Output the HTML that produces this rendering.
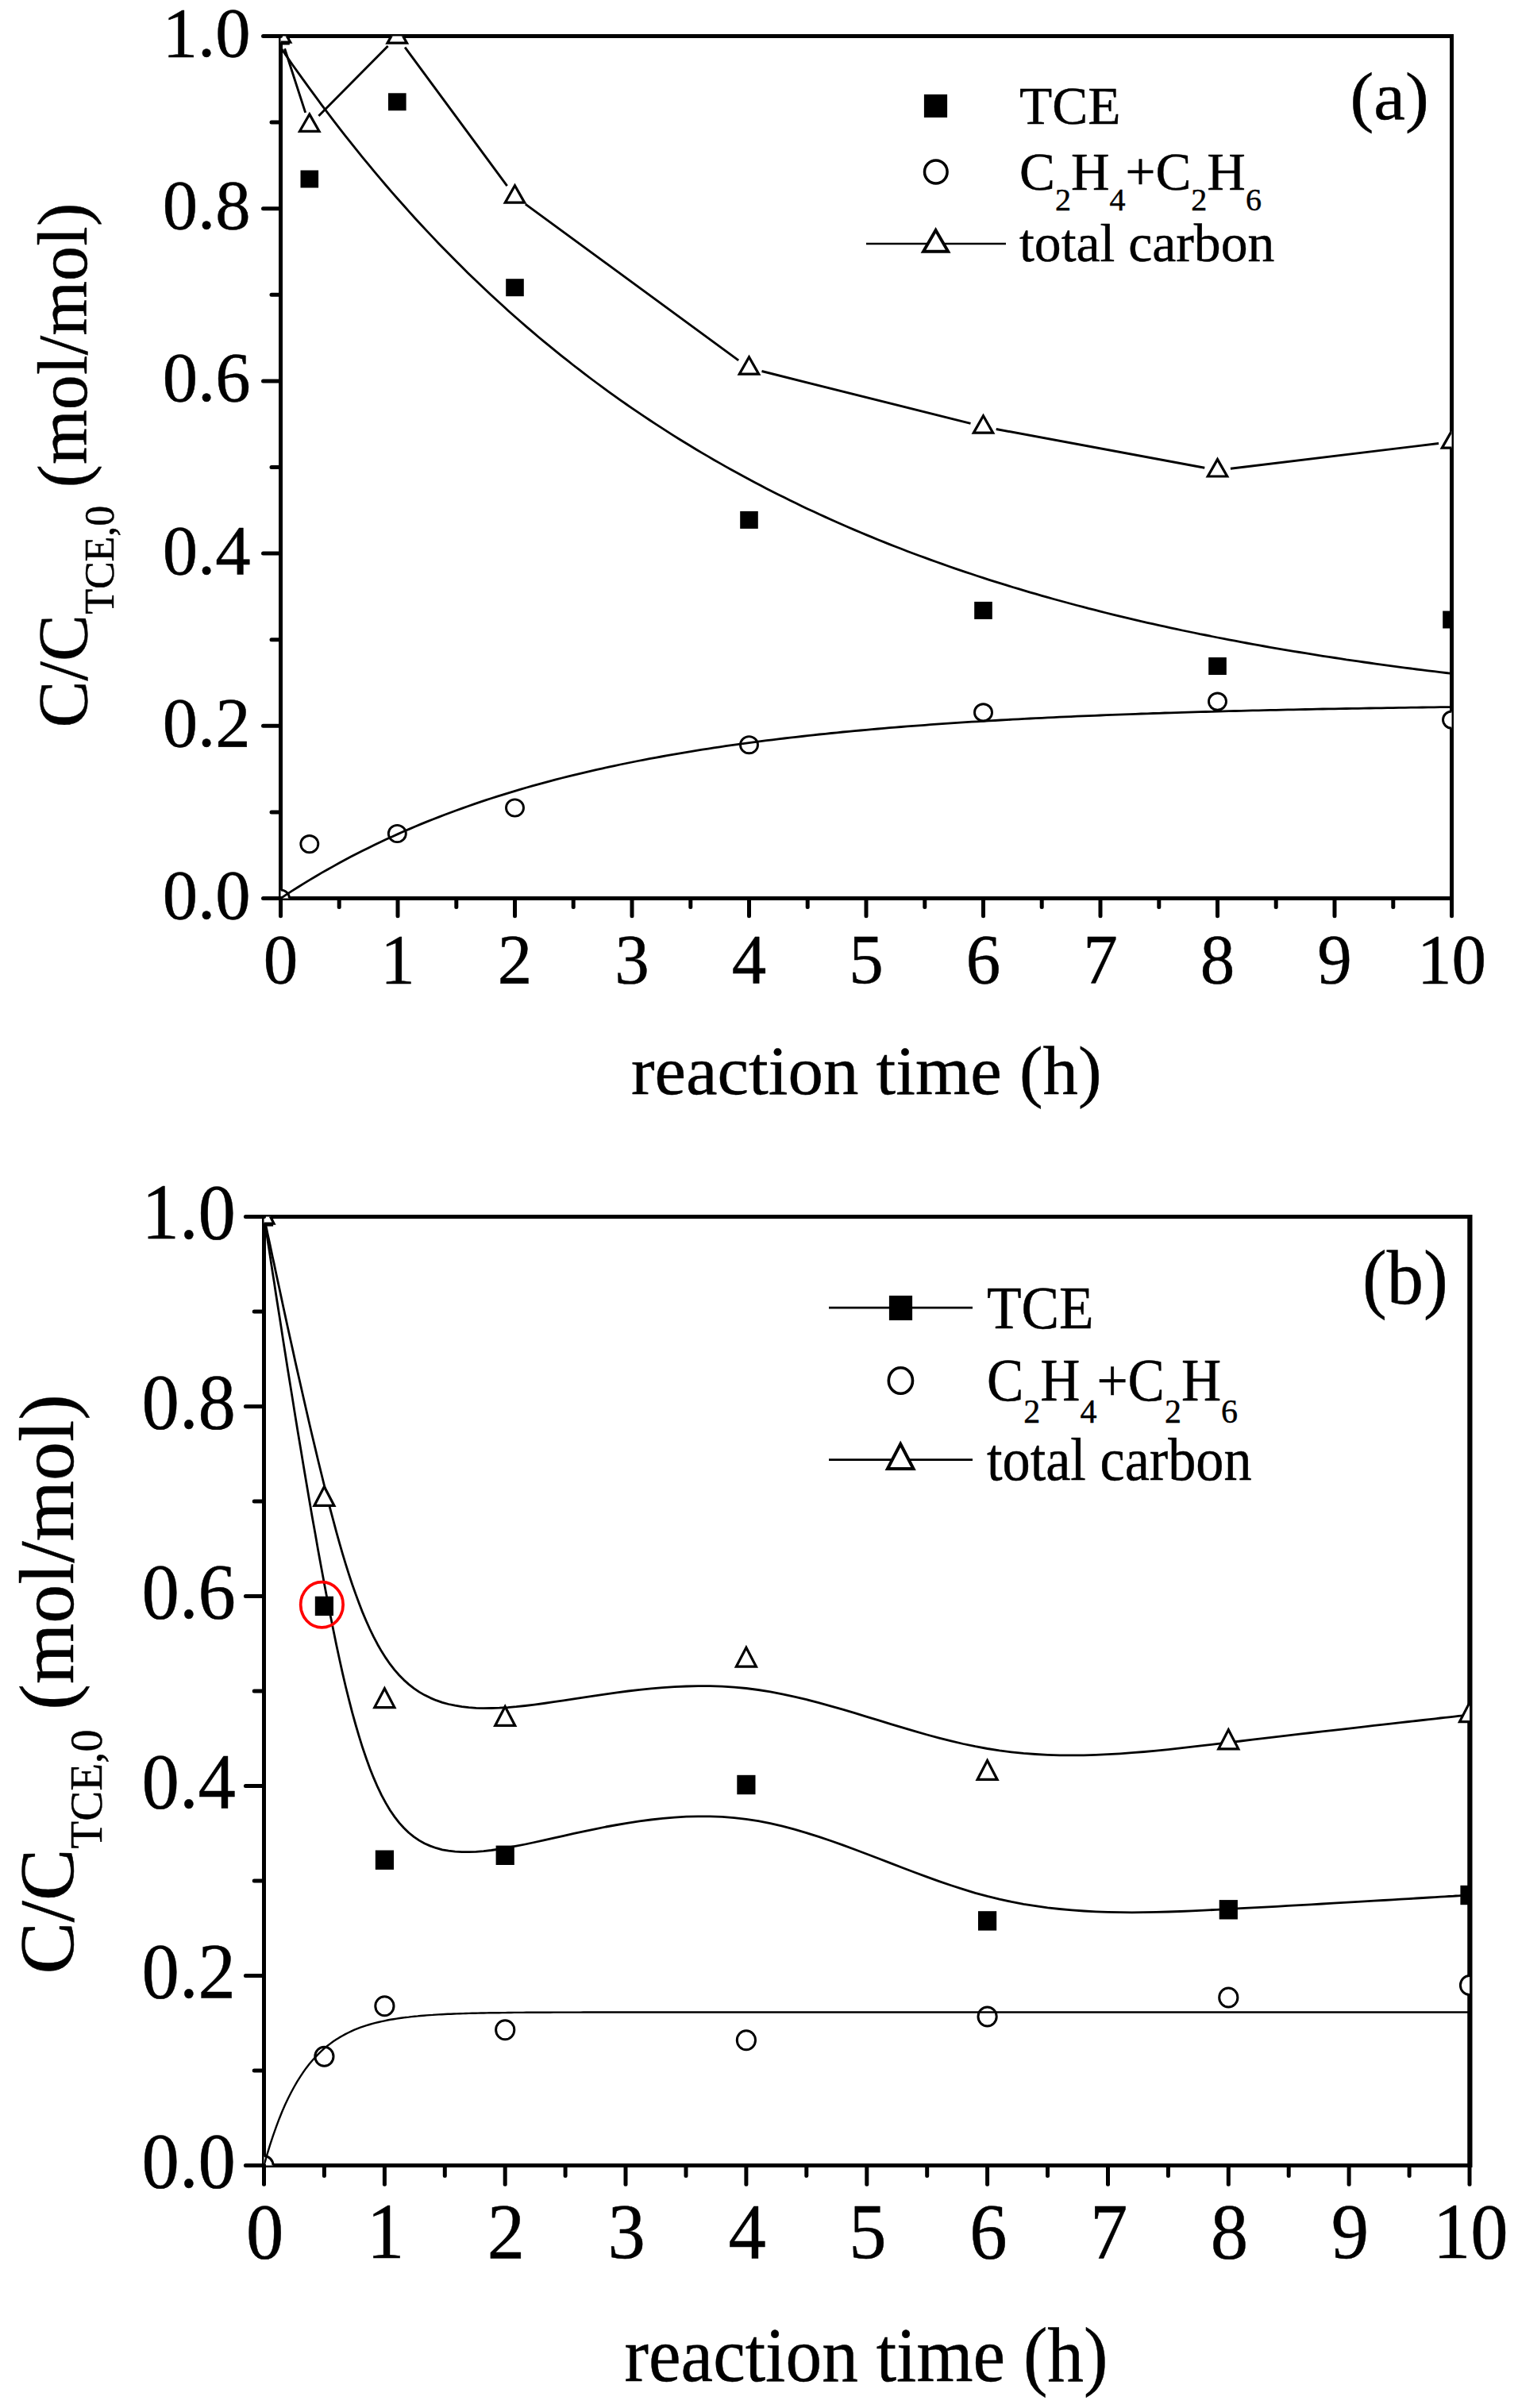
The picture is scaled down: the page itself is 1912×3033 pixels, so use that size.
<!DOCTYPE html>
<html><head><meta charset="utf-8"><title>figure</title>
<style>html,body{margin:0;padding:0;background:#fff}svg{display:block}</style></head>
<body>
<svg width="1912" height="3033" viewBox="0 0 1912 3033">
<rect width="1912" height="3033" fill="#fff"/>
<defs>
<clipPath id="clipa"><rect x="353.5" y="45.5" width="1475.0" height="1086.0"/></clipPath>
<clipPath id="clipb"><rect x="332.5" y="1532.4" width="1518.5" height="1195.2"/></clipPath>
</defs>
<path d="M353.5,45.5H1828.5V1131.5H353.5Z" stroke="#000" stroke-width="5.0" fill="none" stroke-linejoin="miter"/>
<g clip-path="url(#clipa)">
<path d="M358.6,61.2L384.7,141.9M401.4,145.9L488.6,58.1M510.1,59.6L638.7,234.1M661.8,257.1L930.2,453.8M959.5,467.5L1222.5,533.4M1254.7,540.5L1517.3,589.3M1549.9,590.3L1812.1,558.5" fill="none" stroke="#000" stroke-width="2.9"/>
<rect x="342.2" y="34.5" width="22.6" height="22" fill="#000"/>
<rect x="378.5" y="214.5" width="22.6" height="22" fill="#000"/>
<rect x="489.0" y="117.3" width="22.6" height="22" fill="#000"/>
<rect x="637.2" y="351.2" width="22.6" height="22" fill="#000"/>
<rect x="932.2" y="643.9" width="22.6" height="22" fill="#000"/>
<rect x="1227.2" y="757.9" width="22.6" height="22" fill="#000"/>
<rect x="1522.2" y="828.0" width="22.6" height="22" fill="#000"/>
<rect x="1817.2" y="769.5" width="22.6" height="22" fill="#000"/>
<ellipse cx="353.5" cy="1131.5" rx="11.0" ry="10.6" fill="#fff" stroke="#000" stroke-width="2.9"/>
<ellipse cx="389.8" cy="1063.1" rx="11.0" ry="10.6" fill="#fff" stroke="#000" stroke-width="2.9"/>
<ellipse cx="500.3" cy="1050.0" rx="11.0" ry="10.6" fill="#fff" stroke="#000" stroke-width="2.9"/>
<ellipse cx="648.5" cy="1017.5" rx="11.0" ry="10.6" fill="#fff" stroke="#000" stroke-width="2.9"/>
<ellipse cx="943.5" cy="938.2" rx="11.0" ry="10.6" fill="#fff" stroke="#000" stroke-width="2.9"/>
<ellipse cx="1238.5" cy="897.4" rx="11.0" ry="10.6" fill="#fff" stroke="#000" stroke-width="2.9"/>
<ellipse cx="1533.5" cy="883.6" rx="11.0" ry="10.6" fill="#fff" stroke="#000" stroke-width="2.9"/>
<ellipse cx="1828.5" cy="906.6" rx="11.0" ry="10.6" fill="#fff" stroke="#000" stroke-width="2.9"/>
<polygon points="353.5,31.8 365.7,53.2 341.3,53.2" fill="#fff" stroke="#000" stroke-width="3.2" stroke-linejoin="miter" stroke-miterlimit="10"/>
<polygon points="389.8,143.9 402.0,165.3 377.5,165.3" fill="#fff" stroke="#000" stroke-width="3.2" stroke-linejoin="miter" stroke-miterlimit="10"/>
<polygon points="500.3,32.7 512.5,54.1 488.0,54.1" fill="#fff" stroke="#000" stroke-width="3.2" stroke-linejoin="miter" stroke-miterlimit="10"/>
<polygon points="648.5,233.7 660.7,255.1 636.3,255.1" fill="#fff" stroke="#000" stroke-width="3.2" stroke-linejoin="miter" stroke-miterlimit="10"/>
<polygon points="943.5,449.8 955.7,471.2 931.3,471.2" fill="#fff" stroke="#000" stroke-width="3.2" stroke-linejoin="miter" stroke-miterlimit="10"/>
<polygon points="1238.5,523.8 1250.7,545.2 1226.3,545.2" fill="#fff" stroke="#000" stroke-width="3.2" stroke-linejoin="miter" stroke-miterlimit="10"/>
<polygon points="1533.5,578.6 1545.7,600.0 1521.3,600.0" fill="#fff" stroke="#000" stroke-width="3.2" stroke-linejoin="miter" stroke-miterlimit="10"/>
<polygon points="1828.5,542.8 1840.7,564.2 1816.3,564.2" fill="#fff" stroke="#000" stroke-width="3.2" stroke-linejoin="miter" stroke-miterlimit="10"/>
<path d="M353.5,59.9L360.9,70.6L368.2,81.2L375.6,91.6L383.0,101.9L390.4,112.1L397.8,122.2L405.1,132.1L412.5,141.9L419.9,151.6L427.2,161.2L434.6,170.6L442.0,179.9L449.4,189.2L456.8,198.3L464.1,207.2L471.5,216.1L478.9,224.9L486.2,233.5L493.6,242.1L501.0,250.5L508.4,258.8L515.8,267.1L523.1,275.2L530.5,283.2L537.9,291.1L545.2,298.9L552.6,306.7L560.0,314.3L567.4,321.8L574.8,329.3L582.1,336.6L589.5,343.9L596.9,351.0L604.2,358.1L611.6,365.1L619.0,372.0L626.4,378.8L633.8,385.5L641.1,392.2L648.5,398.8L655.9,405.2L663.2,411.6L670.6,417.9L678.0,424.2L685.4,430.4L692.8,436.4L700.1,442.4L707.5,448.4L714.9,454.2L722.2,460.0L729.6,465.7L737.0,471.4L744.4,477.0L751.8,482.5L759.1,487.9L766.5,493.3L773.9,498.6L781.2,503.8L788.6,509.0L796.0,514.1L803.4,519.1L810.8,524.1L818.1,529.0L825.5,533.9L832.9,538.7L840.2,543.4L847.6,548.1L855.0,552.7L862.4,557.3L869.8,561.8L877.1,566.2L884.5,570.6L891.9,574.9L899.2,579.2L906.6,583.4L914.0,587.6L921.4,591.7L928.8,595.8L936.1,599.8L943.5,603.8L950.9,607.7L958.2,611.6L965.6,615.4L973.0,619.2L980.4,622.9L987.8,626.6L995.1,630.2L1002.5,633.8L1009.9,637.4L1017.2,640.9L1024.6,644.3L1032.0,647.8L1039.4,651.1L1046.8,654.5L1054.1,657.8L1061.5,661.0L1068.9,664.2L1076.2,667.4L1083.6,670.5L1091.0,673.6L1098.4,676.6L1105.8,679.7L1113.1,682.6L1120.5,685.6L1127.9,688.5L1135.2,691.3L1142.6,694.2L1150.0,697.0L1157.4,699.7L1164.8,702.4L1172.1,705.1L1179.5,707.8L1186.9,710.4L1194.2,713.0L1201.6,715.6L1209.0,718.1L1216.4,720.6L1223.8,723.0L1231.1,725.5L1238.5,727.9L1245.9,730.3L1253.2,732.6L1260.6,734.9L1268.0,737.2L1275.4,739.5L1282.8,741.7L1290.1,743.9L1297.5,746.1L1304.9,748.2L1312.2,750.3L1319.6,752.4L1327.0,754.5L1334.4,756.5L1341.8,758.5L1349.1,760.5L1356.5,762.5L1363.9,764.4L1371.2,766.4L1378.6,768.2L1386.0,770.1L1393.4,772.0L1400.8,773.8L1408.1,775.6L1415.5,777.4L1422.9,779.1L1430.2,780.9L1437.6,782.6L1445.0,784.3L1452.4,785.9L1459.8,787.6L1467.1,789.2L1474.5,790.8L1481.9,792.4L1489.2,794.0L1496.6,795.5L1504.0,797.0L1511.4,798.6L1518.8,800.0L1526.1,801.5L1533.5,803.0L1540.9,804.4L1548.2,805.8L1555.6,807.2L1563.0,808.6L1570.4,810.0L1577.8,811.3L1585.1,812.7L1592.5,814.0L1599.9,815.3L1607.2,816.6L1614.6,817.8L1622.0,819.1L1629.4,820.3L1636.8,821.5L1644.1,822.7L1651.5,823.9L1658.9,825.1L1666.2,826.3L1673.6,827.4L1681.0,828.5L1688.4,829.6L1695.8,830.8L1703.1,831.8L1710.5,832.9L1717.9,834.0L1725.2,835.0L1732.6,836.1L1740.0,837.1L1747.4,838.1L1754.8,839.1L1762.1,840.1L1769.5,841.1L1776.9,842.0L1784.2,843.0L1791.6,843.9L1799.0,844.8L1806.4,845.7L1813.8,846.6L1821.1,847.5L1828.5,848.4" fill="none" stroke="#000" stroke-width="2.8" stroke-linejoin="round"/>
<path d="M353.5,1131.5L360.9,1126.6L368.2,1121.9L375.6,1117.2L383.0,1112.6L390.4,1108.1L397.8,1103.7L405.1,1099.4L412.5,1095.2L419.9,1091.1L427.2,1087.0L434.6,1083.0L442.0,1079.1L449.4,1075.3L456.8,1071.6L464.1,1067.9L471.5,1064.3L478.9,1060.8L486.2,1057.3L493.6,1053.9L501.0,1050.6L508.4,1047.3L515.8,1044.1L523.1,1041.0L530.5,1037.9L537.9,1034.9L545.2,1032.0L552.6,1029.1L560.0,1026.3L567.4,1023.5L574.8,1020.8L582.1,1018.1L589.5,1015.5L596.9,1012.9L604.2,1010.4L611.6,1007.9L619.0,1005.5L626.4,1003.2L633.8,1000.8L641.1,998.6L648.5,996.3L655.9,994.2L663.2,992.0L670.6,989.9L678.0,987.9L685.4,985.9L692.8,983.9L700.1,981.9L707.5,980.0L714.9,978.2L722.2,976.4L729.6,974.6L737.0,972.8L744.4,971.1L751.8,969.4L759.1,967.8L766.5,966.1L773.9,964.6L781.2,963.0L788.6,961.5L796.0,960.0L803.4,958.5L810.8,957.1L818.1,955.7L825.5,954.3L832.9,953.0L840.2,951.6L847.6,950.3L855.0,949.1L862.4,947.8L869.8,946.6L877.1,945.4L884.5,944.2L891.9,943.1L899.2,941.9L906.6,940.8L914.0,939.7L921.4,938.7L928.8,937.6L936.1,936.6L943.5,935.6L950.9,934.6L958.2,933.7L965.6,932.7L973.0,931.8L980.4,930.9L987.8,930.0L995.1,929.1L1002.5,928.3L1009.9,927.5L1017.2,926.6L1024.6,925.8L1032.0,925.0L1039.4,924.3L1046.8,923.5L1054.1,922.8L1061.5,922.0L1068.9,921.3L1076.2,920.6L1083.6,920.0L1091.0,919.3L1098.4,918.6L1105.8,918.0L1113.1,917.3L1120.5,916.7L1127.9,916.1L1135.2,915.5L1142.6,914.9L1150.0,914.4L1157.4,913.8L1164.8,913.3L1172.1,912.7L1179.5,912.2L1186.9,911.7L1194.2,911.2L1201.6,910.7L1209.0,910.2L1216.4,909.7L1223.8,909.2L1231.1,908.8L1238.5,908.3L1245.9,907.9L1253.2,907.5L1260.6,907.0L1268.0,906.6L1275.4,906.2L1282.8,905.8L1290.1,905.4L1297.5,905.0L1304.9,904.7L1312.2,904.3L1319.6,903.9L1327.0,903.6L1334.4,903.2L1341.8,902.9L1349.1,902.6L1356.5,902.2L1363.9,901.9L1371.2,901.6L1378.6,901.3L1386.0,901.0L1393.4,900.7L1400.8,900.4L1408.1,900.1L1415.5,899.8L1422.9,899.6L1430.2,899.3L1437.6,899.0L1445.0,898.8L1452.4,898.5L1459.8,898.3L1467.1,898.0L1474.5,897.8L1481.9,897.6L1489.2,897.3L1496.6,897.1L1504.0,896.9L1511.4,896.7L1518.8,896.5L1526.1,896.3L1533.5,896.1L1540.9,895.9L1548.2,895.7L1555.6,895.5L1563.0,895.3L1570.4,895.1L1577.8,894.9L1585.1,894.8L1592.5,894.6L1599.9,894.4L1607.2,894.3L1614.6,894.1L1622.0,893.9L1629.4,893.8L1636.8,893.6L1644.1,893.5L1651.5,893.3L1658.9,893.2L1666.2,893.0L1673.6,892.9L1681.0,892.8L1688.4,892.6L1695.8,892.5L1703.1,892.4L1710.5,892.3L1717.9,892.1L1725.2,892.0L1732.6,891.9L1740.0,891.8L1747.4,891.7L1754.8,891.6L1762.1,891.4L1769.5,891.3L1776.9,891.2L1784.2,891.1L1791.6,891.0L1799.0,890.9L1806.4,890.8L1813.8,890.7L1821.1,890.7L1828.5,890.6" fill="none" stroke="#000" stroke-width="2.8" stroke-linejoin="round"/>
</g>
<g stroke="#000" stroke-width="5.0" stroke-linecap="round" fill="none">
<path d="M353.5,1131.5v22.2"/>
<path d="M427.2,1131.5v11.0"/>
<path d="M501.0,1131.5v22.2"/>
<path d="M574.8,1131.5v11.0"/>
<path d="M648.5,1131.5v22.2"/>
<path d="M722.2,1131.5v11.0"/>
<path d="M796.0,1131.5v22.2"/>
<path d="M869.8,1131.5v11.0"/>
<path d="M943.5,1131.5v22.2"/>
<path d="M1017.2,1131.5v11.0"/>
<path d="M1091.0,1131.5v22.2"/>
<path d="M1164.8,1131.5v11.0"/>
<path d="M1238.5,1131.5v22.2"/>
<path d="M1312.2,1131.5v11.0"/>
<path d="M1386.0,1131.5v22.2"/>
<path d="M1459.8,1131.5v11.0"/>
<path d="M1533.5,1131.5v22.2"/>
<path d="M1607.2,1131.5v11.0"/>
<path d="M1681.0,1131.5v22.2"/>
<path d="M1754.8,1131.5v11.0"/>
<path d="M1828.5,1131.5v22.2"/>
<path d="M353.5,1131.5h-22.0"/>
<path d="M353.5,1022.9h-11.5"/>
<path d="M353.5,914.3h-22.0"/>
<path d="M353.5,805.7h-11.5"/>
<path d="M353.5,697.1h-22.0"/>
<path d="M353.5,588.5h-11.5"/>
<path d="M353.5,479.9h-22.0"/>
<path d="M353.5,371.3h-11.5"/>
<path d="M353.5,262.7h-22.0"/>
<path d="M353.5,154.1h-11.5"/>
<path d="M353.5,45.5h-22.0"/>
</g>
<g font-family='"Liberation Serif", "Times New Roman", serif' fill="#000" stroke="#000" stroke-width="0.45" stroke-linejoin="round">
<text transform="translate(353.5,1237.5) scale(1.0000,1.0100)" font-size="87" text-anchor="middle">0</text>
<text transform="translate(501.0,1237.5) scale(1.0000,1.0100)" font-size="87" text-anchor="middle">1</text>
<text transform="translate(648.5,1237.5) scale(1.0000,1.0100)" font-size="87" text-anchor="middle">2</text>
<text transform="translate(796.0,1237.5) scale(1.0000,1.0100)" font-size="87" text-anchor="middle">3</text>
<text transform="translate(943.5,1237.5) scale(1.0000,1.0100)" font-size="87" text-anchor="middle">4</text>
<text transform="translate(1091.0,1237.5) scale(1.0000,1.0100)" font-size="87" text-anchor="middle">5</text>
<text transform="translate(1238.5,1237.5) scale(1.0000,1.0100)" font-size="87" text-anchor="middle">6</text>
<text transform="translate(1386.0,1237.5) scale(1.0000,1.0100)" font-size="87" text-anchor="middle">7</text>
<text transform="translate(1533.5,1237.5) scale(1.0000,1.0100)" font-size="87" text-anchor="middle">8</text>
<text transform="translate(1681.0,1237.5) scale(1.0000,1.0100)" font-size="87" text-anchor="middle">9</text>
<text transform="translate(1828.5,1237.5) scale(1.0000,1.0100)" font-size="87" text-anchor="middle">10</text>
<text transform="translate(315.6,1157.0) scale(1.0200,1.0100)" font-size="87" text-anchor="end">0.0</text>
<text transform="translate(315.6,939.8) scale(1.0200,1.0100)" font-size="87" text-anchor="end">0.2</text>
<text transform="translate(315.6,722.6) scale(1.0200,1.0100)" font-size="87" text-anchor="end">0.4</text>
<text transform="translate(315.6,505.4) scale(1.0200,1.0100)" font-size="87" text-anchor="end">0.6</text>
<text transform="translate(315.6,288.2) scale(1.0200,1.0100)" font-size="87" text-anchor="end">0.8</text>
<text transform="translate(315.6,71.0) scale(1.0200,1.0100)" font-size="87" text-anchor="end">1.0</text>
</g>
<g font-family='"Liberation Serif", "Times New Roman", serif' fill="#000" stroke="#000" stroke-width="0.45" stroke-linejoin="round">
<text transform="translate(1091.3,1377.5) scale(1.0110,0.9750)" font-size="88" text-anchor="middle">reaction time (h)</text>
<text transform="translate(109.0,916.5) rotate(-90)" font-size="88.5" text-anchor="start">C/C<tspan font-size="52" dy="34">TCE,0</tspan><tspan dy="-34"> (mol/mol)</tspan></text>
<text transform="translate(1700.5,150.0) scale(1.0400,0.9900)" font-size="86" text-anchor="start">(a)</text>
<text transform="translate(1284.0,155.5)" font-size="67.5" text-anchor="start">TCE</text>
<text transform="translate(1284.0,239.4)" font-size="67.3" text-anchor="start">C<tspan font-size="40" dy="26">2</tspan><tspan dy="-26">H</tspan><tspan font-size="40" dy="26">4</tspan><tspan dy="-26">+C</tspan><tspan font-size="40" dy="26">2</tspan><tspan dy="-26">H</tspan><tspan font-size="40" dy="26">6</tspan></text>
<text transform="translate(1284.0,329.0)" font-size="67.7" text-anchor="start">total carbon</text>
</g>
<rect x="1163.9" y="118.9" width="29.2" height="29.1" fill="#000"/>
<ellipse cx="1178.8" cy="216.5" rx="14.3" ry="14.5" fill="none" stroke="#000" stroke-width="3.5"/>
<path d="M1091,306.9H1267" stroke="#000" stroke-width="2.5"/>
<polygon points="1178.6,289.9 1194.2,316.8 1163.0,316.8" fill="#fff" stroke="#000" stroke-width="3.9" stroke-linejoin="miter" stroke-miterlimit="10"/>
<path d="M332.5,1532.4H1851.0V2727.6H332.5Z" stroke="#000" stroke-width="5.0" fill="none" stroke-linejoin="miter"/>
<path d="M1851.5,1529.9V2730.1" stroke="#000" stroke-width="6" fill="none"/>
<g clip-path="url(#clipb)">
<path d="M332.5,1532.4L332.5,1532.4L332.5,1532.5L332.5,1532.7L332.6,1533.1L332.7,1533.7L332.8,1534.6L333.0,1535.9L333.3,1537.6L333.7,1539.8L334.1,1542.6L334.6,1546.0L335.2,1550.1L336.0,1554.9L336.8,1560.4L337.8,1566.9L339.0,1574.3L340.3,1582.6L341.7,1592.0L343.3,1602.5L345.2,1614.2L347.1,1627.0L349.3,1641.0L351.7,1656.1L354.2,1672.1L356.8,1689.1L359.6,1706.8L362.5,1725.3L365.6,1744.4L368.8,1764.1L372.0,1784.3L375.4,1804.9L378.9,1825.8L382.4,1846.9L386.0,1868.2L389.6,1889.6L393.3,1910.9L397.1,1932.1L400.8,1953.2L404.6,1974.0L408.4,1994.5L412.2,2014.5L416.0,2034.1L419.9,2053.2L423.7,2071.9L427.6,2090.0L431.5,2107.6L435.5,2124.7L439.6,2141.2L443.7,2157.2L448.0,2172.5L452.3,2187.2L456.7,2201.3L461.3,2214.7L465.9,2227.4L470.7,2239.4L475.6,2250.7L480.7,2261.3L486.0,2271.1L491.4,2280.2L497.0,2288.4L502.8,2295.9L508.8,2302.5L515.0,2308.5L521.4,2313.6L528.0,2318.1L534.9,2322.0L542.1,2325.1L549.4,2327.7L557.1,2329.8L565.0,2331.2L573.2,2332.2L581.7,2332.7L590.5,2332.7L599.7,2332.4L609.1,2331.6L618.9,2330.5L629.0,2329.0L639.5,2327.2L650.3,2325.2L661.5,2323.0L673.1,2320.5L685.0,2317.9L697.3,2315.1L709.9,2312.3L722.8,2309.4L736.0,2306.6L749.4,2303.8L763.1,2301.0L777.1,2298.5L791.2,2296.1L805.5,2293.9L820.0,2292.0L834.7,2290.4L849.5,2289.1L864.4,2288.2L879.4,2287.8L894.4,2287.9L909.6,2288.4L924.7,2289.6L939.9,2291.3L955.1,2293.7L970.3,2296.7L985.5,2300.2L1000.6,2304.2L1015.8,2308.6L1031.0,2313.4L1046.2,2318.5L1061.4,2323.9L1076.6,2329.5L1091.8,2335.2L1106.9,2341.0L1122.1,2346.9L1137.3,2352.7L1152.5,2358.5L1167.7,2364.1L1182.9,2369.6L1198.0,2374.8L1213.2,2379.7L1228.4,2384.3L1243.6,2388.4L1258.8,2392.1L1274.0,2395.4L1289.2,2398.3L1304.3,2400.7L1319.5,2402.8L1334.7,2404.5L1349.9,2405.9L1365.1,2407.0L1380.3,2407.8L1395.4,2408.4L1410.6,2408.7L1425.8,2408.8L1441.0,2408.7L1456.2,2408.4L1471.4,2408.0L1486.6,2407.5L1501.7,2406.8L1516.9,2406.1L1532.1,2405.4L1547.3,2404.6L1562.5,2403.7L1577.6,2402.9L1592.7,2402.1L1607.6,2401.3L1622.4,2400.4L1637.0,2399.6L1651.4,2398.8L1665.5,2398.0L1679.4,2397.2L1692.8,2396.4L1705.9,2395.6L1718.6,2394.9L1730.8,2394.2L1742.5,2393.5L1753.7,2392.8L1764.3,2392.2L1774.4,2391.6L1783.7,2391.0L1792.4,2390.5L1800.4,2390.0L1807.6,2389.6L1814.1,2389.2L1819.9,2388.8L1825.1,2388.5L1829.6,2388.3L1833.6,2388.0L1837.1,2387.8L1840.1,2387.6L1842.6,2387.5L1844.7,2387.3L1846.4,2387.2L1847.8,2387.2L1848.8,2387.1L1849.6,2387.1L1850.2,2387.0L1850.6,2387.0L1850.8,2387.0L1850.9,2387.0L1851.0,2387.0L1851.0,2387.0" fill="none" stroke="#000" stroke-width="2.8" stroke-linejoin="round"/>
<path d="M332.5,1532.4L332.5,1532.4L332.5,1532.5L332.5,1532.6L332.6,1532.9L332.7,1533.3L332.8,1534.0L333.0,1534.9L333.3,1536.2L333.7,1537.8L334.1,1539.8L334.6,1542.3L335.2,1545.2L336.0,1548.7L336.8,1552.7L337.8,1557.4L339.0,1562.7L340.3,1568.8L341.7,1575.6L343.3,1583.2L345.2,1591.6L347.1,1600.9L349.3,1611.1L351.7,1622.0L354.2,1633.7L356.8,1646.0L359.6,1658.9L362.5,1672.3L365.6,1686.2L368.8,1700.6L372.0,1715.4L375.4,1730.4L378.9,1745.7L382.4,1761.3L386.0,1777.0L389.6,1792.7L393.3,1808.5L397.1,1824.3L400.8,1840.0L404.6,1855.5L408.4,1870.9L412.2,1886.0L416.0,1900.8L419.9,1915.4L423.7,1929.6L427.6,1943.6L431.5,1957.2L435.5,1970.4L439.6,1983.3L443.7,1995.8L448.0,2007.9L452.3,2019.6L456.7,2030.9L461.3,2041.7L465.9,2052.0L470.7,2061.9L475.6,2071.2L480.7,2080.1L486.0,2088.4L491.4,2096.2L497.0,2103.4L502.8,2110.0L508.8,2116.1L515.0,2121.6L521.4,2126.6L528.0,2131.1L534.9,2135.1L542.1,2138.6L549.4,2141.7L557.1,2144.3L565.0,2146.5L573.2,2148.2L581.7,2149.6L590.5,2150.6L599.7,2151.3L609.1,2151.6L618.9,2151.5L629.0,2151.2L639.5,2150.6L650.3,2149.7L661.5,2148.5L673.1,2147.1L685.0,2145.5L697.3,2143.7L709.9,2141.8L722.8,2139.9L736.0,2137.8L749.4,2135.8L763.1,2133.8L777.1,2131.9L791.2,2130.0L805.5,2128.4L820.0,2126.9L834.7,2125.6L849.5,2124.6L864.4,2124.0L879.4,2123.6L894.4,2123.7L909.6,2124.1L924.7,2125.1L939.9,2126.5L955.1,2128.5L970.3,2130.9L985.5,2133.8L1000.6,2137.1L1015.8,2140.7L1031.0,2144.7L1046.2,2148.8L1061.4,2153.2L1076.6,2157.7L1091.8,2162.3L1106.9,2166.9L1122.1,2171.6L1137.3,2176.2L1152.5,2180.6L1167.7,2185.0L1182.9,2189.1L1198.0,2192.9L1213.2,2196.5L1228.4,2199.7L1243.6,2202.5L1258.8,2204.9L1274.0,2206.8L1289.2,2208.4L1304.3,2209.5L1319.5,2210.3L1334.7,2210.8L1349.9,2210.9L1365.1,2210.8L1380.3,2210.3L1395.4,2209.7L1410.6,2208.8L1425.8,2207.7L1441.0,2206.5L1456.2,2205.1L1471.4,2203.6L1486.6,2201.9L1501.7,2200.2L1516.9,2198.4L1532.1,2196.6L1547.3,2194.8L1562.5,2193.0L1577.6,2191.2L1592.7,2189.4L1607.6,2187.6L1622.4,2185.9L1637.0,2184.2L1651.4,2182.5L1665.5,2180.9L1679.4,2179.3L1692.8,2177.8L1705.9,2176.3L1718.6,2174.8L1730.8,2173.4L1742.5,2172.1L1753.7,2170.8L1764.3,2169.6L1774.4,2168.5L1783.7,2167.5L1792.4,2166.5L1800.4,2165.6L1807.6,2164.8L1814.1,2164.0L1819.9,2163.4L1825.1,2162.8L1829.6,2162.3L1833.6,2161.8L1837.1,2161.4L1840.1,2161.1L1842.6,2160.8L1844.7,2160.6L1846.4,2160.4L1847.8,2160.2L1848.8,2160.1L1849.6,2160.0L1850.2,2160.0L1850.6,2159.9L1850.8,2159.9L1850.9,2159.9L1851.0,2159.9L1851.0,2159.9" fill="none" stroke="#000" stroke-width="2.8" stroke-linejoin="round"/>
<rect x="320.9" y="1520.2" width="23.2" height="24.4" fill="#000"/>
<rect x="396.8" y="2010.7" width="23.2" height="24.4" fill="#000"/>
<rect x="472.8" y="2330.5" width="23.2" height="24.4" fill="#000"/>
<rect x="624.6" y="2324.6" width="23.2" height="24.4" fill="#000"/>
<rect x="928.3" y="2235.8" width="23.2" height="24.4" fill="#000"/>
<rect x="1232.0" y="2407.2" width="23.2" height="24.4" fill="#000"/>
<rect x="1535.7" y="2393.1" width="23.2" height="24.4" fill="#000"/>
<rect x="1839.4" y="2374.8" width="23.2" height="24.4" fill="#000"/>
<ellipse cx="332.5" cy="2727.6" rx="11.6" ry="12.0" fill="#fff" stroke="#000" stroke-width="3.0"/>
<ellipse cx="408.4" cy="2590.2" rx="11.6" ry="12.0" fill="#fff" stroke="#000" stroke-width="3.0"/>
<ellipse cx="484.4" cy="2526.8" rx="11.6" ry="12.0" fill="#fff" stroke="#000" stroke-width="3.0"/>
<ellipse cx="636.2" cy="2556.7" rx="11.6" ry="12.0" fill="#fff" stroke="#000" stroke-width="3.0"/>
<ellipse cx="939.9" cy="2569.8" rx="11.6" ry="12.0" fill="#fff" stroke="#000" stroke-width="3.0"/>
<ellipse cx="1243.6" cy="2540.0" rx="11.6" ry="12.0" fill="#fff" stroke="#000" stroke-width="3.0"/>
<ellipse cx="1547.3" cy="2516.0" rx="11.6" ry="12.0" fill="#fff" stroke="#000" stroke-width="3.0"/>
<ellipse cx="1851.0" cy="2500.5" rx="11.6" ry="12.0" fill="#fff" stroke="#000" stroke-width="3.0"/>
<polygon points="332.5,1517.2 345.0,1541.1 320.0,1541.1" fill="#fff" stroke="#000" stroke-width="3.2" stroke-linejoin="miter" stroke-miterlimit="10"/>
<polygon points="408.4,1872.5 420.9,1896.4 395.9,1896.4" fill="#fff" stroke="#000" stroke-width="3.2" stroke-linejoin="miter" stroke-miterlimit="10"/>
<polygon points="484.4,2126.7 496.9,2150.6 471.8,2150.6" fill="#fff" stroke="#000" stroke-width="3.2" stroke-linejoin="miter" stroke-miterlimit="10"/>
<polygon points="636.2,2149.4 648.7,2173.4 623.7,2173.4" fill="#fff" stroke="#000" stroke-width="3.2" stroke-linejoin="miter" stroke-miterlimit="10"/>
<polygon points="939.9,2075.2 952.4,2099.1 927.4,2099.1" fill="#fff" stroke="#000" stroke-width="3.2" stroke-linejoin="miter" stroke-miterlimit="10"/>
<polygon points="1243.6,2217.4 1256.1,2241.4 1231.1,2241.4" fill="#fff" stroke="#000" stroke-width="3.2" stroke-linejoin="miter" stroke-miterlimit="10"/>
<polygon points="1547.3,2178.8 1559.8,2202.8 1534.8,2202.8" fill="#fff" stroke="#000" stroke-width="3.2" stroke-linejoin="miter" stroke-miterlimit="10"/>
<polygon points="1851.0,2144.6 1863.5,2168.6 1838.5,2168.6" fill="#fff" stroke="#000" stroke-width="3.2" stroke-linejoin="miter" stroke-miterlimit="10"/>
<path d="M332.5,2727.6L336.3,2714.2L340.1,2701.7L343.9,2690.1L347.7,2679.3L351.5,2669.2L355.3,2659.8L359.1,2651.1L362.9,2643.0L366.7,2635.5L370.5,2628.5L374.3,2621.9L378.1,2615.9L381.9,2610.2L385.6,2604.9L389.4,2600.0L393.2,2595.5L397.0,2591.3L400.8,2587.3L404.6,2583.6L408.4,2580.2L412.2,2577.0L416.0,2574.1L419.8,2571.3L423.6,2568.8L427.4,2566.4L431.2,2564.2L435.0,2562.1L438.8,2560.2L442.6,2558.4L446.4,2556.7L450.2,2555.2L454.0,2553.7L457.8,2552.4L461.6,2551.2L465.4,2550.0L469.2,2548.9L473.0,2547.9L476.8,2547.0L480.6,2546.1L484.4,2545.3L488.1,2544.5L491.9,2543.8L495.7,2543.2L499.5,2542.6L503.3,2542.0L507.1,2541.5L510.9,2541.0L514.7,2540.6L518.5,2540.1L522.3,2539.7L526.1,2539.4L529.9,2539.0L533.7,2538.7L537.5,2538.4L541.3,2538.1L545.1,2537.9L548.9,2537.6L552.7,2537.4L556.5,2537.2L560.3,2537.0L564.1,2536.8L567.9,2536.7L571.7,2536.5L575.5,2536.4L579.3,2536.2L583.1,2536.1L586.8,2536.0L590.6,2535.9L594.4,2535.8L598.2,2535.7L602.0,2535.6L605.8,2535.5L609.6,2535.5L613.4,2535.4L617.2,2535.3L621.0,2535.3L624.8,2535.2L628.6,2535.2L632.4,2535.1L636.2,2535.1L640.0,2535.0L643.8,2535.0L647.6,2534.9L651.4,2534.9L655.2,2534.9L659.0,2534.9L662.8,2534.8L666.6,2534.8L670.4,2534.8L674.2,2534.8L678.0,2534.7L681.8,2534.7L685.6,2534.7L689.3,2534.7L693.1,2534.7L696.9,2534.6L700.7,2534.6L704.5,2534.6L708.3,2534.6L712.1,2534.6L715.9,2534.6L719.7,2534.6L723.5,2534.6L727.3,2534.6L731.1,2534.6L734.9,2534.5L738.7,2534.5L742.5,2534.5L746.3,2534.5L750.1,2534.5L753.9,2534.5L757.7,2534.5L761.5,2534.5L765.3,2534.5L769.1,2534.5L772.9,2534.5L776.7,2534.5L780.5,2534.5L784.3,2534.5L788.0,2534.5L791.8,2534.5L795.6,2534.5L799.4,2534.5L803.2,2534.5L807.0,2534.5L810.8,2534.5L814.6,2534.5L818.4,2534.5L822.2,2534.5L826.0,2534.5L829.8,2534.5L833.6,2534.5L837.4,2534.5L841.2,2534.5L845.0,2534.5L848.8,2534.5L852.6,2534.5L856.4,2534.5L860.2,2534.5L864.0,2534.5L867.8,2534.5L871.6,2534.5L875.4,2534.5L879.2,2534.5L883.0,2534.5L886.8,2534.5L890.5,2534.5L894.3,2534.5L898.1,2534.5L901.9,2534.5L905.7,2534.5L909.5,2534.5L913.3,2534.5L917.1,2534.5L920.9,2534.5L924.7,2534.5L928.5,2534.5L932.3,2534.5L936.1,2534.5L939.9,2534.5L943.7,2534.5L947.5,2534.5L951.3,2534.5L955.1,2534.5L958.9,2534.5L962.7,2534.5L966.5,2534.5L970.3,2534.5L974.1,2534.5L977.9,2534.5L981.7,2534.5L985.5,2534.5L989.3,2534.5L993.0,2534.5L996.8,2534.5L1000.6,2534.5L1004.4,2534.5L1008.2,2534.5L1012.0,2534.5L1015.8,2534.5L1019.6,2534.5L1023.4,2534.5L1027.2,2534.5L1031.0,2534.5L1034.8,2534.5L1038.6,2534.5L1042.4,2534.5L1046.2,2534.5L1050.0,2534.5L1053.8,2534.5L1057.6,2534.5L1061.4,2534.5L1065.2,2534.5L1069.0,2534.5L1072.8,2534.5L1076.6,2534.5L1080.4,2534.5L1084.2,2534.5L1088.0,2534.5L1091.8,2534.5L1095.5,2534.5L1099.3,2534.5L1103.1,2534.5L1106.9,2534.5L1110.7,2534.5L1114.5,2534.5L1118.3,2534.5L1122.1,2534.5L1125.9,2534.5L1129.7,2534.5L1133.5,2534.5L1137.3,2534.5L1141.1,2534.5L1144.9,2534.5L1148.7,2534.5L1152.5,2534.5L1156.3,2534.5L1160.1,2534.5L1163.9,2534.5L1167.7,2534.5L1171.5,2534.5L1175.3,2534.5L1179.1,2534.5L1182.9,2534.5L1186.7,2534.5L1190.5,2534.5L1194.2,2534.5L1198.0,2534.5L1201.8,2534.5L1205.6,2534.5L1209.4,2534.5L1213.2,2534.5L1217.0,2534.5L1220.8,2534.5L1224.6,2534.5L1228.4,2534.5L1232.2,2534.5L1236.0,2534.5L1239.8,2534.5L1243.6,2534.5L1247.4,2534.5L1251.2,2534.5L1255.0,2534.5L1258.8,2534.5L1262.6,2534.5L1266.4,2534.5L1270.2,2534.5L1274.0,2534.5L1277.8,2534.5L1281.6,2534.5L1285.4,2534.5L1289.2,2534.5L1293.0,2534.5L1296.7,2534.5L1300.5,2534.5L1304.3,2534.5L1308.1,2534.5L1311.9,2534.5L1315.7,2534.5L1319.5,2534.5L1323.3,2534.5L1327.1,2534.5L1330.9,2534.5L1334.7,2534.5L1338.5,2534.5L1342.3,2534.5L1346.1,2534.5L1349.9,2534.5L1353.7,2534.5L1357.5,2534.5L1361.3,2534.5L1365.1,2534.5L1368.9,2534.5L1372.7,2534.5L1376.5,2534.5L1380.3,2534.5L1384.1,2534.5L1387.9,2534.5L1391.7,2534.5L1395.5,2534.5L1399.2,2534.5L1403.0,2534.5L1406.8,2534.5L1410.6,2534.5L1414.4,2534.5L1418.2,2534.5L1422.0,2534.5L1425.8,2534.5L1429.6,2534.5L1433.4,2534.5L1437.2,2534.5L1441.0,2534.5L1444.8,2534.5L1448.6,2534.5L1452.4,2534.5L1456.2,2534.5L1460.0,2534.5L1463.8,2534.5L1467.6,2534.5L1471.4,2534.5L1475.2,2534.5L1479.0,2534.5L1482.8,2534.5L1486.6,2534.5L1490.4,2534.5L1494.2,2534.5L1497.9,2534.5L1501.7,2534.5L1505.5,2534.5L1509.3,2534.5L1513.1,2534.5L1516.9,2534.5L1520.7,2534.5L1524.5,2534.5L1528.3,2534.5L1532.1,2534.5L1535.9,2534.5L1539.7,2534.5L1543.5,2534.5L1547.3,2534.5L1551.1,2534.5L1554.9,2534.5L1558.7,2534.5L1562.5,2534.5L1566.3,2534.5L1570.1,2534.5L1573.9,2534.5L1577.7,2534.5L1581.5,2534.5L1585.3,2534.5L1589.1,2534.5L1592.9,2534.5L1596.7,2534.5L1600.4,2534.5L1604.2,2534.5L1608.0,2534.5L1611.8,2534.5L1615.6,2534.5L1619.4,2534.5L1623.2,2534.5L1627.0,2534.5L1630.8,2534.5L1634.6,2534.5L1638.4,2534.5L1642.2,2534.5L1646.0,2534.5L1649.8,2534.5L1653.6,2534.5L1657.4,2534.5L1661.2,2534.5L1665.0,2534.5L1668.8,2534.5L1672.6,2534.5L1676.4,2534.5L1680.2,2534.5L1684.0,2534.5L1687.8,2534.5L1691.6,2534.5L1695.4,2534.5L1699.1,2534.5L1702.9,2534.5L1706.7,2534.5L1710.5,2534.5L1714.3,2534.5L1718.1,2534.5L1721.9,2534.5L1725.7,2534.5L1729.5,2534.5L1733.3,2534.5L1737.1,2534.5L1740.9,2534.5L1744.7,2534.5L1748.5,2534.5L1752.3,2534.5L1756.1,2534.5L1759.9,2534.5L1763.7,2534.5L1767.5,2534.5L1771.3,2534.5L1775.1,2534.5L1778.9,2534.5L1782.7,2534.5L1786.5,2534.5L1790.3,2534.5L1794.1,2534.5L1797.9,2534.5L1801.6,2534.5L1805.4,2534.5L1809.2,2534.5L1813.0,2534.5L1816.8,2534.5L1820.6,2534.5L1824.4,2534.5L1828.2,2534.5L1832.0,2534.5L1835.8,2534.5L1839.6,2534.5L1843.4,2534.5L1847.2,2534.5L1851.0,2534.5" fill="none" stroke="#000" stroke-width="2.4" stroke-linejoin="round"/>
<ellipse cx="405.4" cy="2021.2" rx="26.75" ry="28.6" fill="none" stroke="#ff0000" stroke-width="3.7"/>
</g>
<g stroke="#000" stroke-width="5.0" stroke-linecap="round" fill="none">
<path d="M332.5,2727.6v23.7"/>
<path d="M408.4,2727.6v12.8"/>
<path d="M484.4,2727.6v23.7"/>
<path d="M560.3,2727.6v12.8"/>
<path d="M636.2,2727.6v23.7"/>
<path d="M712.1,2727.6v12.8"/>
<path d="M788.0,2727.6v23.7"/>
<path d="M864.0,2727.6v12.8"/>
<path d="M939.9,2727.6v23.7"/>
<path d="M1015.8,2727.6v12.8"/>
<path d="M1091.8,2727.6v23.7"/>
<path d="M1167.7,2727.6v12.8"/>
<path d="M1243.6,2727.6v23.7"/>
<path d="M1319.5,2727.6v12.8"/>
<path d="M1395.5,2727.6v23.7"/>
<path d="M1471.4,2727.6v12.8"/>
<path d="M1547.3,2727.6v23.7"/>
<path d="M1623.2,2727.6v12.8"/>
<path d="M1699.1,2727.6v23.7"/>
<path d="M1775.1,2727.6v12.8"/>
<path d="M1851.0,2727.6v23.7"/>
<path d="M332.5,2727.6h-23.1"/>
<path d="M332.5,2608.1h-12.3"/>
<path d="M332.5,2488.6h-23.1"/>
<path d="M332.5,2369.0h-12.3"/>
<path d="M332.5,2249.5h-23.1"/>
<path d="M332.5,2130.0h-12.3"/>
<path d="M332.5,2010.5h-23.1"/>
<path d="M332.5,1891.0h-12.3"/>
<path d="M332.5,1771.4h-23.1"/>
<path d="M332.5,1651.9h-12.3"/>
<path d="M332.5,1532.4h-23.1"/>
</g>
<g font-family='"Liberation Serif", "Times New Roman", serif' fill="#000" stroke="#000" stroke-width="0.45" stroke-linejoin="round">
<text transform="translate(333.7,2843.5) scale(0.9760,1.0290)" font-size="97" text-anchor="middle">0</text>
<text transform="translate(485.6,2843.5) scale(0.9760,1.0290)" font-size="97" text-anchor="middle">1</text>
<text transform="translate(637.4,2843.5) scale(0.9760,1.0290)" font-size="97" text-anchor="middle">2</text>
<text transform="translate(789.2,2843.5) scale(0.9760,1.0290)" font-size="97" text-anchor="middle">3</text>
<text transform="translate(941.1,2843.5) scale(0.9760,1.0290)" font-size="97" text-anchor="middle">4</text>
<text transform="translate(1093.0,2843.5) scale(0.9760,1.0290)" font-size="97" text-anchor="middle">5</text>
<text transform="translate(1244.8,2843.5) scale(0.9760,1.0290)" font-size="97" text-anchor="middle">6</text>
<text transform="translate(1396.7,2843.5) scale(0.9760,1.0290)" font-size="97" text-anchor="middle">7</text>
<text transform="translate(1548.5,2843.5) scale(0.9760,1.0290)" font-size="97" text-anchor="middle">8</text>
<text transform="translate(1700.3,2843.5) scale(0.9760,1.0290)" font-size="97" text-anchor="middle">9</text>
<text transform="translate(1852.2,2843.5) scale(0.9760,1.0290)" font-size="97" text-anchor="middle">10</text>
<text transform="translate(296.9,2755.2) scale(0.9760,1.0290)" font-size="97" text-anchor="end">0.0</text>
<text transform="translate(296.9,2516.2) scale(0.9760,1.0290)" font-size="97" text-anchor="end">0.2</text>
<text transform="translate(296.9,2277.1) scale(0.9760,1.0290)" font-size="97" text-anchor="end">0.4</text>
<text transform="translate(296.9,2038.1) scale(0.9760,1.0290)" font-size="97" text-anchor="end">0.6</text>
<text transform="translate(296.9,1799.0) scale(0.9760,1.0290)" font-size="97" text-anchor="end">0.8</text>
<text transform="translate(296.9,1560.0) scale(0.9760,1.0290)" font-size="97" text-anchor="end">1.0</text>
</g>
<g font-family='"Liberation Serif", "Times New Roman", serif' fill="#000" stroke="#000" stroke-width="0.45" stroke-linejoin="round">
<text transform="translate(1091.0,2998.7) scale(0.9420,1.0100)" font-size="97" text-anchor="middle">reaction time (h)</text>
<g transform="translate(91.5,2486.5) rotate(-90)" style="font-kerning:none"><text transform="translate(0.00,0.00)" font-size="98">C/C</text><text transform="translate(157.96,36.00)" font-size="57">TCE,0</text><text transform="translate(332.86,0.00)" font-size="98">(mol/mol)</text></g>
<text transform="translate(1716.0,1641.6) scale(0.9630,1.0100)" font-size="96" text-anchor="start">(b)</text>
<text transform="translate(1243.0,1673.2) scale(1.0180,1.1000)" font-size="70" text-anchor="start">TCE</text>
<g transform="translate(1243.0,1764.3)" style="font-kerning:none"><text transform="translate(0.00,0.00) scale(0.9920,1.1000)" font-size="70">C</text><text transform="translate(46.32,27.70) scale(1.0000,1.0200)" font-size="42">2</text><text transform="translate(67.32,0.00) scale(0.9920,1.1000)" font-size="70">H</text><text transform="translate(117.46,27.70) scale(1.0000,1.0200)" font-size="42">4</text><text transform="translate(138.46,0.00) scale(0.9920,1.1000)" font-size="70">+C</text><text transform="translate(223.94,27.70) scale(1.0000,1.0200)" font-size="42">2</text><text transform="translate(244.94,0.00) scale(0.9920,1.1000)" font-size="70">H</text><text transform="translate(295.09,27.70) scale(1.0000,1.0200)" font-size="42">6</text></g>
<text transform="translate(1243.0,1863.7) scale(1.0040,1.0860)" font-size="70" text-anchor="start">total carbon</text>
</g>
<path d="M1044,1647.2H1225" stroke="#000" stroke-width="2.8"/>
<rect x="1119.9" y="1631.9" width="29.2" height="31.1" fill="#000"/>
<ellipse cx="1134.4" cy="1739" rx="15.1" ry="16.3" fill="none" stroke="#000" stroke-width="3.6"/>
<path d="M1044,1838.7H1225" stroke="#000" stroke-width="2.8"/>
<polygon points="1134.2,1818.8 1150.5,1850.0 1117.9,1850.0" fill="#fff" stroke="#000" stroke-width="4.0" stroke-linejoin="miter" stroke-miterlimit="10"/>
</svg>
</body></html>
